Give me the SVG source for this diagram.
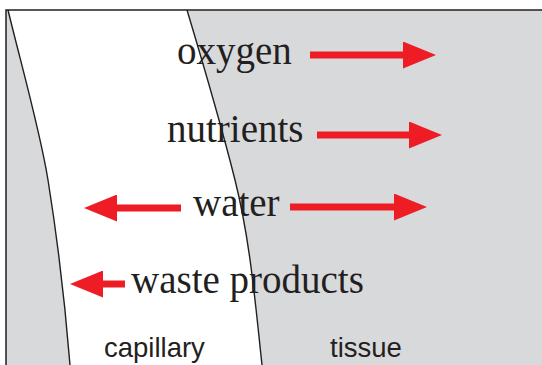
<svg xmlns="http://www.w3.org/2000/svg" width="542" height="365" viewBox="0 0 542 365">
<defs>
<style>
.bg{fill:#d8d9db}
.cap{fill:#ffffff}
.wall{fill:none;stroke:#231f20;stroke-width:1.4}
.frame{fill:none;stroke:#231f20;stroke-width:1.5}
.arr{stroke:#ee1c25;stroke-width:7;fill:none;marker-end:url(#ah)}
.lbl{font-family:"Liberation Serif","Times New Roman",serif;font-size:39px;fill:#231f20}
.reg{font-family:"Liberation Sans",Arial,sans-serif;font-size:27.5px;fill:#231f20}
</style>
<marker id="ah" markerUnits="userSpaceOnUse" markerWidth="34" markerHeight="27" viewBox="0 0 34 27" refX="1" refY="13.5" orient="auto">
<path d="M0,0 L33,13.5 L0,27 Z" fill="#ee1c25"/>
</marker>
</defs>
<rect class="bg" x="6" y="10" width="536" height="355"/>
<path class="cap" d="M8,10 C20,60 40,130 48,180 S64,290 70,365 L262,365 C255,300 250,240 235,180 C220,120 205,70 187,10 Z"/>
<path class="wall" d="M8,10 C20,60 40,130 48,180 S64,290 70,365"/>
<path class="wall" d="M187,10 C205,70 220,120 235,180 S255,300 262,365"/>
<path class="frame" d="M6,365 L6,10 L542,10"/>
<g id="connectors">
<line class="arr" x1="310" y1="55" x2="404" y2="55"/>
<line class="arr" x1="317" y1="135" x2="410" y2="135"/>
<line class="arr" x1="290" y1="207" x2="395" y2="207"/>
<line class="arr" x1="181" y1="208" x2="116" y2="208"/>
<line class="arr" x1="125" y1="284" x2="102" y2="284"/>
</g>
<g id="oxygen"><text class="lbl" x="177" y="64">oxygen</text></g>
<g id="nutrients"><text class="lbl" x="167" y="142">nutrients</text></g>
<g id="water"><text class="lbl" x="193" y="216">water</text></g>
<g id="waste"><text class="lbl" x="131" y="293">waste products</text></g>
<g id="capillary"><text class="reg" x="104" y="357">capillary</text></g>
<g id="tissue"><text class="reg" x="330" y="357">tissue</text></g>
</svg>
